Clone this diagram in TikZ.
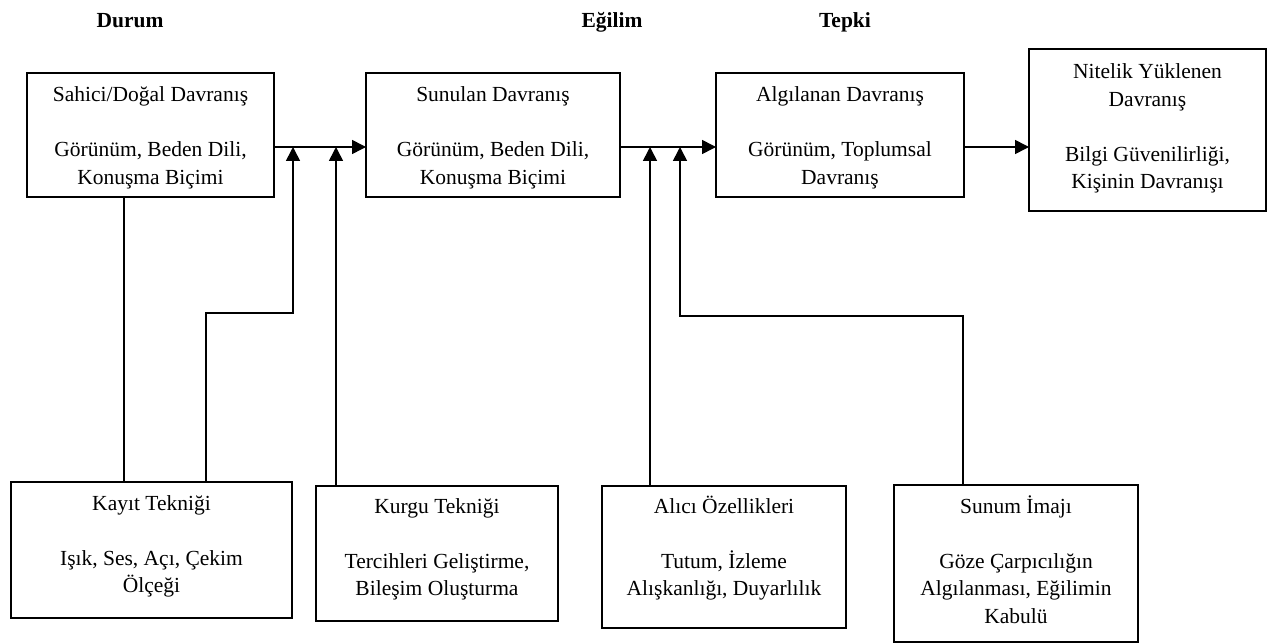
\documentclass[tikz,border=0pt]{standalone}
\usepackage{fontspec}
\setmainfont{Liberation Serif}
\usetikzlibrary{arrows.meta}
\newcommand{\btxt}[4]{\parbox[c][#2][t]{#1}{\centering\rule{0pt}{#3}#4}}
\newlength{\gapl}
\setlength{\gapl}{27.5pt}
\begin{document}
\begin{tikzpicture}[x=1pt,y=-1pt,
  box/.style={draw, line width=1.6pt, inner sep=0pt, outer sep=0pt, anchor=north west,
    font=\fontsize{21.5pt}{27.5pt}\selectfont},
  ttl/.style={anchor=base, inner sep=0pt, font=\bfseries\fontsize{21.5pt}{26pt}\selectfont},
  conn/.style={line width=1.6pt},
  arr/.style={conn, -{Triangle[length=14pt,width=14pt]}}]
\fill[white] (0,0) rectangle (1269,644);
\useasboundingbox (0,0) rectangle (1269,644);

% titles
\node[ttl] (t1) at (130,28) {Durum};
\node[ttl] (t2) at (612,28) {Eğilim};
\node[ttl] (t3) at (845,28) {Tepki};

% top boxes
\node[box] (b1) at (27,73) {\btxt{247pt}{124pt}{29pt}{Sahici/Doğal Davranış\\[\gapl]Görünüm, Beden Dili,\\Konuşma Biçimi}};
\node[box] (b2) at (366,73) {\btxt{254pt}{124pt}{29pt}{Sunulan Davranış\\[\gapl]Görünüm, Beden Dili,\\Konuşma Biçimi}};
\node[box] (b3) at (716,73) {\btxt{248pt}{124pt}{29pt}{Algılanan Davranış\\[\gapl]Görünüm, Toplumsal\\Davranış}};
\node[box] (b4) at (1029,49) {\btxt{237pt}{162pt}{30pt}{Nitelik Yüklenen\\Davranış\\[\gapl]Bilgi Güvenilirliği,\\Kişinin Davranışı}};

% bottom boxes
\node[box] (kayit) at (11,482) {\btxt{281pt}{136pt}{28pt}{Kayıt Tekniği\\[\gapl]Işık, Ses, Açı, Çekim\\Ölçeği}};
\node[box] (kurgu) at (316,486) {\btxt{242pt}{135pt}{27pt}{Kurgu Tekniği\\[\gapl]Tercihleri Geliştirme,\\Bileşim Oluşturma}};
\node[box] (alici) at (602,486) {\btxt{244pt}{142pt}{27pt}{Alıcı Özellikleri\\[\gapl]Tutum, İzleme\\Alışkanlığı, Duyarlılık}};
\node[box] (sunum) at (894,485) {\btxt{244pt}{157pt}{28pt}{Sunum İmajı\\[\gapl]Göze Çarpıcılığın\\Algılanması, Eğilimin\\Kabulü}};

% helper coordinates
\coordinate (yl) at (0,147);
\coordinate (ja) at (293,147);
\coordinate (jb) at (336,147);
\coordinate (jc) at (650,147);
\coordinate (jd) at (680,147);
\coordinate (k1) at (124,0);
\coordinate (k2) at (206,313);
\coordinate (s1) at (963,316);

% main chain
\draw[arr] (b1.east |- yl) -- (b2.west |- yl);
\draw[arr] (b2.east |- yl) -- (b3.west |- yl);
\draw[arr] (b3.east |- yl) -- (b4.west |- yl);

% feeders
\draw[conn] (b1.south -| k1) -- (kayit.north -| k1);
\draw[arr] (kayit.north -| k2) -- (k2) -| (ja);
\draw[arr] (kurgu.north -| jb) -- (jb);
\draw[arr] (alici.north -| jc) -- (jc);
\draw[arr] (sunum.north -| s1) -- (s1) -| (jd);
\end{tikzpicture}
\end{document}
